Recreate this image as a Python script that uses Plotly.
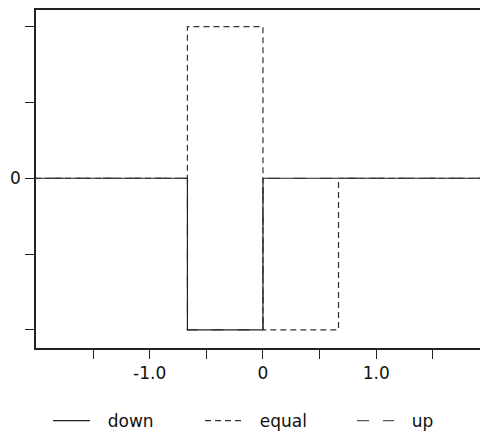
import plotly.graph_objects as go

# breakpoints of the step functions
x_breaks = [-2.1, -0.6667, 0.0, 0.6667, 2.1]
down = [0, -1, 0, 0, 0]
equal = [0, 1, -1, 0, 0]
up = [0, -1, 0, 0, 0]

x_tickvals = [-1.5, -1.0, -0.5, 0.0, 0.5, 1.0, 1.5]
x_ticktext = ["", "-1.0", "", "0", "", "1.0", ""]
y_tickvals = [-1.0, -0.5, 0.0, 0.5, 1.0]
y_ticktext = ["", "", "0", "", ""]

FONT = "DejaVu Sans"
GAP = "\u2002\u2005"

fig = go.Figure()
fig.add_trace(go.Scatter(x=x_breaks, y=up, mode="lines", name=GAP + "up", legendrank=3,
                         line=dict(shape="hv", color="#555555", width=1.2, dash="12px,14px")))
fig.add_trace(go.Scatter(x=x_breaks, y=down, mode="lines", name=GAP + "down", legendrank=1,
                         line=dict(shape="hv", color="#222222", width=1.2)))
fig.add_trace(go.Scatter(x=x_breaks, y=equal, mode="lines", name=GAP + "equal", legendrank=2,
                         line=dict(shape="hv", color="#333333", width=1.2, dash="6px,4px")))

fig.update_layout(
    width=488, height=432,
    margin=dict(l=28, r=8, t=2, b=92, autoexpand=False),
    plot_bgcolor="white", paper_bgcolor="white",
    font=dict(family=FONT, size=17, color="#111111"),
    showlegend=True,
    legend=dict(orientation="h", xref="container", x=0.082, xanchor="left",
                yref="container", y=0.044, yanchor="middle",
                itemwidth=37, entrywidth=100, entrywidthmode="pixels",
                font=dict(family=FONT, size=17)),
    xaxis=dict(range=[-2.003, 1.986], showgrid=False, zeroline=False, automargin=False,
               showline=True, linecolor="#222222", linewidth=1.5, mirror=True,
               ticks="outside", ticklen=9, tickwidth=1, tickcolor="#222222",
               tickvals=x_tickvals, ticktext=x_ticktext),
    yaxis=dict(range=[-1.12, 1.11], showgrid=False, zeroline=False, automargin=False,
               showline=True, linecolor="#222222", linewidth=1.5,
               ticks="outside", ticklen=9, tickwidth=1, tickcolor="#222222",
               tickvals=y_tickvals, ticktext=y_ticktext, ticklabelstandoff=1),
)

fig.write_html("out.html")
